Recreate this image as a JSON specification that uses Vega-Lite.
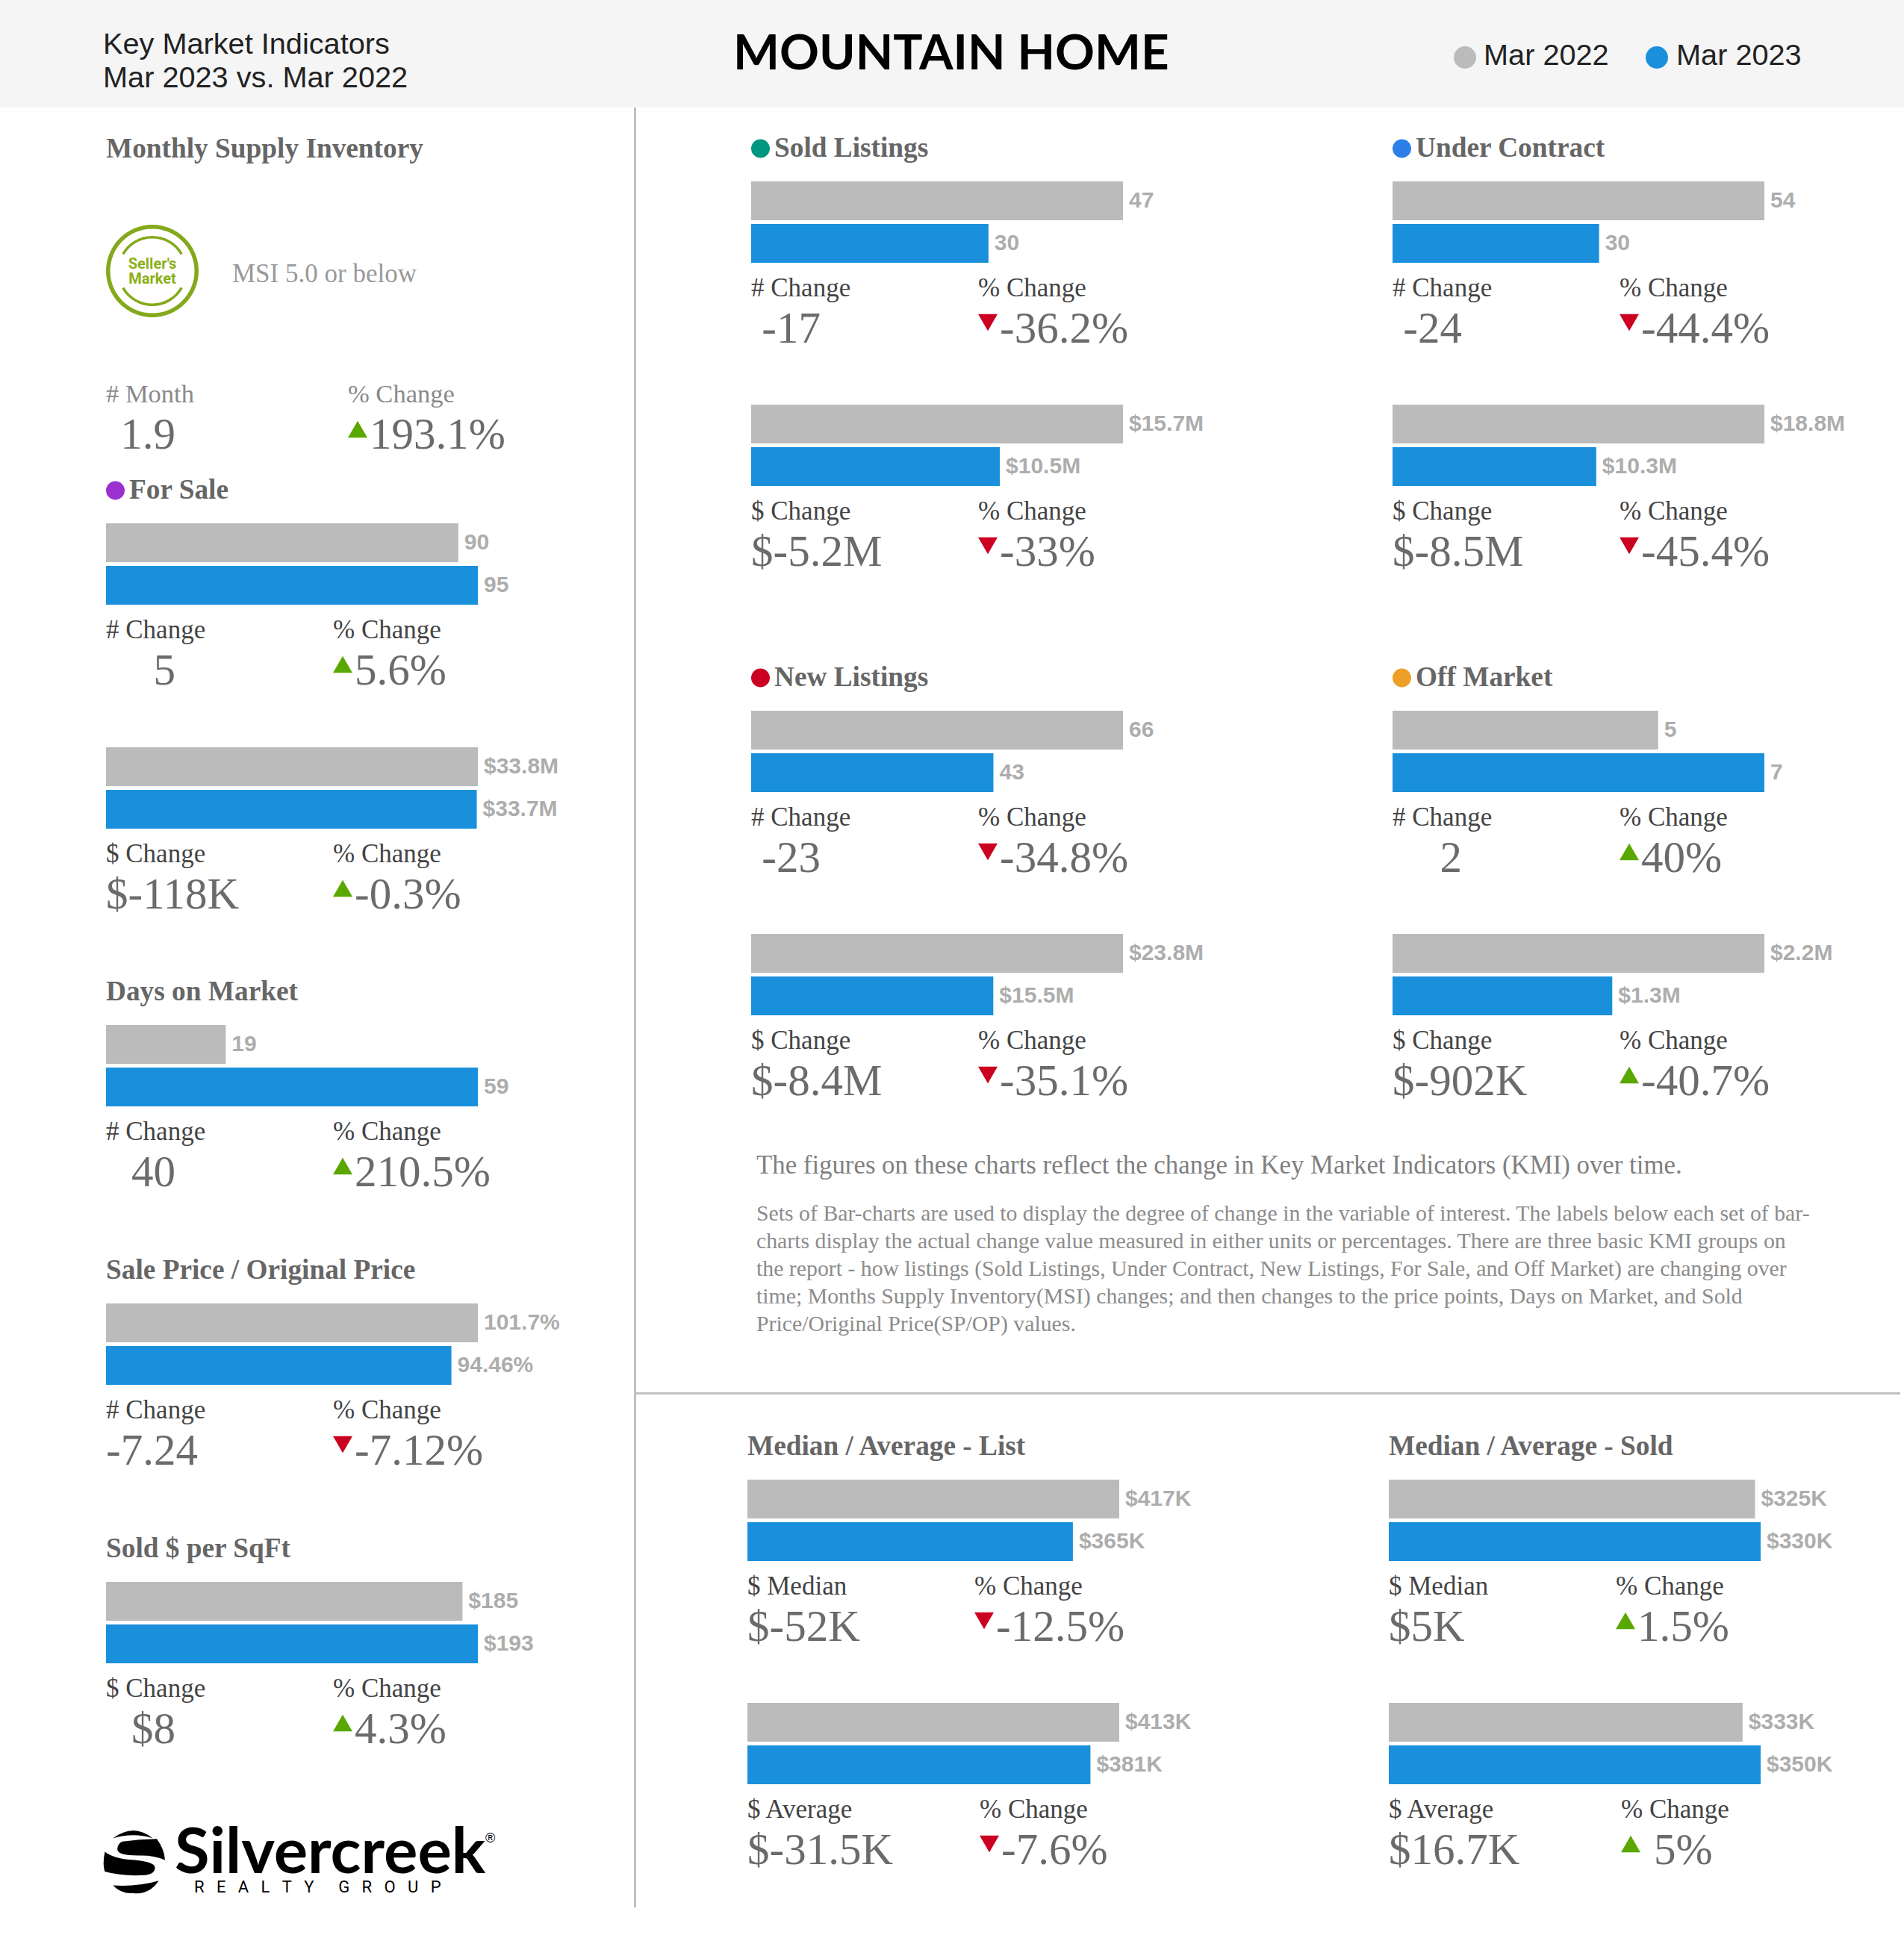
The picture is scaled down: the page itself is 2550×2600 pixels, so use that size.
{"$schema":"https://vega.github.io/schema/vega-lite/v6.json","padding":0,"background":"white","autosize":{"type":"pad"},
"config":{"view":{"stroke":null},"concat":{"spacing":0},"style":{
"lbl":{"font":"Liberation Sans","fontWeight":"bold","fontSize":30,"color":"#adadad","align":"left","baseline":"middle"},
"ttl":{"font":"Liberation Serif","fontWeight":"bold","fontSize":37.3,"color":"#666666","align":"left","baseline":"middle"},
"head":{"font":"Liberation Serif","fontSize":35,"color":"#444444","align":"left","baseline":"middle"},
"msih":{"font":"Liberation Serif","fontSize":34.5,"color":"#8a8a8a","align":"left","baseline":"middle"},
"val":{"font":"Liberation Serif","fontSize":59,"color":"#6b6b6b","align":"left","baseline":"middle"},
"hdr":{"font":"Liberation Sans","fontSize":39.7,"color":"#222222","align":"left","baseline":"alphabetic"}}},
"datasets":{"rows":[
{"g":"fs","block":"fs_n","row":"title","a":"For Sale","dot":true,"key":"For Sale"},
{"g":"fs","block":"fs_n","row":"Mar 2022","key":"Mar 2022","value":90,"label":"90"},
{"g":"fs","block":"fs_n","row":"Mar 2023","key":"Mar 2023","value":95,"label":"95"},
{"g":"fs","block":"fs_n","row":"head","a":"# Change","b":"% Change"},
{"g":"fs","block":"fs_n","row":"value","a":"5","fit":"r","b":"5.6%","key":"up"},
{"g":"fs","block":"fs_v","row":"Mar 2022","key":"Mar 2022","value":33.8,"label":"$33.8M"},
{"g":"fs","block":"fs_v","row":"Mar 2023","key":"Mar 2023","value":33.7,"label":"$33.7M"},
{"g":"fs","block":"fs_v","row":"head","a":"$ Change","b":"% Change"},
{"g":"fs","block":"fs_v","row":"value","a":"$-118K","b":"-0.3%","key":"up"},
{"g":"lr","block":"dom","row":"title","a":"Days on Market"},
{"g":"lr","block":"dom","row":"Mar 2022","key":"Mar 2022","value":19,"label":"19"},
{"g":"lr","block":"dom","row":"Mar 2023","key":"Mar 2023","value":59,"label":"59"},
{"g":"lr","block":"dom","row":"head","a":"# Change","b":"% Change"},
{"g":"lr","block":"dom","row":"value","a":"40","fit":"r","b":"210.5%","key":"up"},
{"g":"lr","block":"spop","row":"title","a":"Sale Price / Original Price"},
{"g":"lr","block":"spop","row":"Mar 2022","key":"Mar 2022","value":101.7,"label":"101.7%"},
{"g":"lr","block":"spop","row":"Mar 2023","key":"Mar 2023","value":94.46,"label":"94.46%"},
{"g":"lr","block":"spop","row":"head","a":"# Change","b":"% Change"},
{"g":"lr","block":"spop","row":"value","a":"-7.24","b":"-7.12%","key":"down"},
{"g":"lr","block":"sqft","row":"title","a":"Sold $ per SqFt"},
{"g":"lr","block":"sqft","row":"Mar 2022","key":"Mar 2022","value":185,"label":"$185"},
{"g":"lr","block":"sqft","row":"Mar 2023","key":"Mar 2023","value":193,"label":"$193"},
{"g":"lr","block":"sqft","row":"head","a":"$ Change","b":"% Change"},
{"g":"lr","block":"sqft","row":"value","a":"$8","fit":"r","b":"4.3%","key":"up"},
{"g":"sc","block":"sold_n","row":"title","a":"Sold Listings","dot":true,"key":"Sold Listings"},
{"g":"sc","block":"sold_n","row":"Mar 2022","key":"Mar 2022","value":47,"label":"47"},
{"g":"sc","block":"sold_n","row":"Mar 2023","key":"Mar 2023","value":30,"label":"30"},
{"g":"sc","block":"sold_n","row":"head","a":"# Change","b":"% Change"},
{"g":"sc","block":"sold_n","row":"value","a":"-17","fit":"r","b":"-36.2%","key":"down"},
{"g":"sc","block":"uc_n","row":"title","a":"Under Contract","dot":true,"key":"Under Contract"},
{"g":"sc","block":"uc_n","row":"Mar 2022","key":"Mar 2022","value":54,"label":"54"},
{"g":"sc","block":"uc_n","row":"Mar 2023","key":"Mar 2023","value":30,"label":"30"},
{"g":"sc","block":"uc_n","row":"head","a":"# Change","b":"% Change"},
{"g":"sc","block":"uc_n","row":"value","a":"-24","fit":"r","b":"-44.4%","key":"down"},
{"g":"sc","block":"sold_v","row":"Mar 2022","key":"Mar 2022","value":15.7,"label":"$15.7M"},
{"g":"sc","block":"sold_v","row":"Mar 2023","key":"Mar 2023","value":10.5,"label":"$10.5M"},
{"g":"sc","block":"sold_v","row":"head","a":"$ Change","b":"% Change"},
{"g":"sc","block":"sold_v","row":"value","a":"$-5.2M","b":"-33%","key":"down"},
{"g":"sc","block":"uc_v","row":"Mar 2022","key":"Mar 2022","value":18.8,"label":"$18.8M"},
{"g":"sc","block":"uc_v","row":"Mar 2023","key":"Mar 2023","value":10.3,"label":"$10.3M"},
{"g":"sc","block":"uc_v","row":"head","a":"$ Change","b":"% Change"},
{"g":"sc","block":"uc_v","row":"value","a":"$-8.5M","b":"-45.4%","key":"down"},
{"g":"no","block":"new_n","row":"title","a":"New Listings","dot":true,"key":"New Listings"},
{"g":"no","block":"new_n","row":"Mar 2022","key":"Mar 2022","value":66,"label":"66"},
{"g":"no","block":"new_n","row":"Mar 2023","key":"Mar 2023","value":43,"label":"43"},
{"g":"no","block":"new_n","row":"head","a":"# Change","b":"% Change"},
{"g":"no","block":"new_n","row":"value","a":"-23","fit":"r","b":"-34.8%","key":"down"},
{"g":"no","block":"off_n","row":"title","a":"Off Market","dot":true,"key":"Off Market"},
{"g":"no","block":"off_n","row":"Mar 2022","key":"Mar 2022","value":5,"label":"5"},
{"g":"no","block":"off_n","row":"Mar 2023","key":"Mar 2023","value":7,"label":"7"},
{"g":"no","block":"off_n","row":"head","a":"# Change","b":"% Change"},
{"g":"no","block":"off_n","row":"value","a":"2","fit":"r","b":"40%","key":"up"},
{"g":"no","block":"new_v","row":"Mar 2022","key":"Mar 2022","value":23.8,"label":"$23.8M"},
{"g":"no","block":"new_v","row":"Mar 2023","key":"Mar 2023","value":15.5,"label":"$15.5M"},
{"g":"no","block":"new_v","row":"head","a":"$ Change","b":"% Change"},
{"g":"no","block":"new_v","row":"value","a":"$-8.4M","b":"-35.1%","key":"down"},
{"g":"no","block":"off_v","row":"Mar 2022","key":"Mar 2022","value":2.2,"label":"$2.2M"},
{"g":"no","block":"off_v","row":"Mar 2023","key":"Mar 2023","value":1.3,"label":"$1.3M"},
{"g":"no","block":"off_v","row":"head","a":"$ Change","b":"% Change"},
{"g":"no","block":"off_v","row":"value","a":"$-902K","b":"-40.7%","key":"up"},
{"g":"ma","block":"list_m","row":"title","a":"Median / Average - List"},
{"g":"ma","block":"list_m","row":"Mar 2022","key":"Mar 2022","value":417,"label":"$417K"},
{"g":"ma","block":"list_m","row":"Mar 2023","key":"Mar 2023","value":365,"label":"$365K"},
{"g":"ma","block":"list_m","row":"head","a":"$ Median","b":"% Change"},
{"g":"ma","block":"list_m","row":"value","a":"$-52K","b":"-12.5%","key":"down"},
{"g":"ma","block":"sold_m","row":"title","a":"Median / Average - Sold"},
{"g":"ma","block":"sold_m","row":"Mar 2022","key":"Mar 2022","value":325,"label":"$325K"},
{"g":"ma","block":"sold_m","row":"Mar 2023","key":"Mar 2023","value":330,"label":"$330K"},
{"g":"ma","block":"sold_m","row":"head","a":"$ Median","b":"% Change"},
{"g":"ma","block":"sold_m","row":"value","a":"$5K","b":"1.5%","key":"up"},
{"g":"ma","block":"list_a","row":"Mar 2022","key":"Mar 2022","value":413,"label":"$413K"},
{"g":"ma","block":"list_a","row":"Mar 2023","key":"Mar 2023","value":381,"label":"$381K"},
{"g":"ma","block":"list_a","row":"head","a":"$ Average","b":"% Change"},
{"g":"ma","block":"list_a","row":"value","a":"$-31.5K","b":"-7.6%","key":"down"},
{"g":"ma","block":"sold_a","row":"Mar 2022","key":"Mar 2022","value":333,"label":"$333K"},
{"g":"ma","block":"sold_a","row":"Mar 2023","key":"Mar 2023","value":350,"label":"$350K"},
{"g":"ma","block":"sold_a","row":"head","a":"$ Average","b":"% Change"},
{"g":"ma","block":"sold_a","row":"value","a":"$16.7K","b":"5%","key":"up"}
]},
"bounds":"full",
"vconcat":[
{"width":2550,"height":144,"view":{"fill":"#f5f5f5","stroke":null},"encoding":{"x":{"datum":0,"type":"quantitative","scale":{"domain":[0,1]},"axis":null}},"layer":[
{"data":{"values":[{"t":"Key Market Indicators"}]},"mark":{"type":"text","style":"hdr","dx":138,"dy":0},"encoding":{"text":{"field":"t"}}},
{"data":{"values":[{"t":"Mar 2023 vs. Mar 2022"}]},"mark":{"type":"text","style":"hdr","dx":138,"dy":45},"encoding":{"text":{"field":"t"}}},
{"data":{"values":[{"t":"MOUNTAIN HOME"}]},"mark":{"type":"text","font":"Lato","fontWeight":"bold","fontSize":65.6,"color":"#000000","align":"left","baseline":"alphabetic","dx":982,"dy":21},"encoding":{"text":{"field":"t"}}},
{"data":{"values":[{"t":"Mar 2022"}]},"mark":{"type":"text","style":"hdr","dx":1987,"dy":15},"encoding":{"text":{"field":"t"}}},
{"data":{"values":[{"t":"Mar 2023"}]},"mark":{"type":"text","style":"hdr","dx":2245,"dy":15},"encoding":{"text":{"field":"t"}}},
{"data":{"values":[{"t":"Mar 2022"}]},"mark":{"type":"point","filled":true,"opacity":1,"size":900,"color":"#bbbbbb","xOffset":1962,"yOffset":5},"encoding":{}},
{"data":{"values":[{"t":"Mar 2023"}]},"mark":{"type":"point","filled":true,"opacity":1,"size":900,"color":"#1a90dc","xOffset":2219,"yOffset":5},"encoding":{}}
]},
{"hconcat":[
{"vconcat":[
{"hconcat":[
{"width":142,"height":20,"data":{"values":[{}]},"mark":{"type":"text","text":""},"encoding":{}},
{"vconcat":[
{"width":700,"height":26,"data":{"values":[{}]},"mark":{"type":"text","text":""},"encoding":{}},
{"width":700,"height":60,"data":{"values":[{"t":"Monthly Supply Inventory"}]},"mark":{"type":"text","style":"ttl"},"encoding":{"x":{"datum":0,"type":"quantitative","scale":{"domain":[0,1]},"axis":null},"text":{"field":"t"}}},
{"width":1,"height":71,"data":{"values":[{}]},"mark":{"type":"text","text":""},"encoding":{}},
{"hconcat":[
{"width":124,"height":124,"data":{"values":[{"a":"Seller's","b":"Market"}]},"layer":[
{"mark":{"type":"arc","radius":62,"radius2":56.5,"theta":0,"theta2":6.2832,"fill":"#84a91c"},"encoding":{}},
{"mark":{"type":"arc","radius":47,"radius2":43.5,"theta":-1.05,"theta2":1.05,"fill":"#84a91c"},"encoding":{}},
{"mark":{"type":"arc","radius":47,"radius2":43.5,"theta":2.09,"theta2":4.19,"fill":"#84a91c"},"encoding":{}},
{"mark":{"type":"text","font":"Roboto","fontWeight":"bold","fontSize":20,"color":"#8bb01c","dy":-9},"encoding":{"text":{"field":"a"}}},
{"mark":{"type":"text","font":"Roboto","fontWeight":"bold","fontSize":20,"color":"#8bb01c","dy":11},"encoding":{"text":{"field":"b"}}}
]},
{"width":45,"height":20,"data":{"values":[{}]},"mark":{"type":"text","text":""},"encoding":{}},
{"width":300,"height":124,"data":{"values":[{"t":"MSI 5.0 or below"}]},"mark":{"type":"text","font":"Liberation Serif","fontSize":35,"color":"#999999","align":"left","baseline":"middle","dy":4},"encoding":{"x":{"datum":0,"type":"quantitative","scale":{"domain":[0,1]},"axis":null},"text":{"field":"t"}}}
]},
{"width":1,"height":77,"data":{"values":[{}]},"mark":{"type":"text","text":""},"encoding":{}},
{"width":700,"height":108,"data":{"values":[{"row":"head","a":"# Month","b":"% Change"},{"row":"value","a":"1.9","b":"193.1%","key":"up"}]},
"encoding":{"x":{"datum":0,"type":"quantitative","scale":{"domain":[0,1]},"axis":null},"y":{"field":"row","type":"nominal","scale":{"type":"band","domain":["head","value"],"padding":0},"axis":null}},
"layer":[
{"transform":[{"filter":"datum.row=='head'"}],"mark":{"type":"text","style":"msih"},"encoding":{"text":{"field":"a"}}},
{"transform":[{"filter":"datum.row=='head'"}],"mark":{"type":"text","style":"msih","dx":324},"encoding":{"text":{"field":"b"}}},
{"transform":[{"filter":"datum.row=='value'"}],"mark":{"type":"text","style":"val","align":"right","dx":93},"encoding":{"text":{"field":"a"}}},
{"transform":[{"filter":"datum.row=='value'"}],"mark":{"type":"text","style":"val","dx":353},"encoding":{"text":{"field":"b"}}},
{"transform":[{"filter":"datum.row=='value'"}],"mark":{"type":"point","filled":true,"opacity":1,"size":676,"xOffset":337,"yOffset":-8,"shape":"triangle-up","color":"#5aa700"},"encoding":{}}
]},
{"width":1,"height":24,"data":{"values":[{}]},"mark":{"type":"text","text":""},"encoding":{}},
{"data":{"name":"rows"},"transform":[{"filter":"datum.g=='fs'"}],"facet":{"field":"block","type":"nominal","header":{"title":null,"labelExpr":"''","labelFontSize":1,"labelPadding":0},"sort":["fs_n","fs_v"]},"columns":1,"spacing":{"row":20,"column":0},"bounds":"flush","resolve":{"scale":{"x":"independent"}},
"spec":{"width":498,"height":280,"encoding":{"y":{"field":"row","type":"nominal","scale":{"type":"band","domain":["title","Mar 2022","Mar 2023","head","value"],"paddingInner":0.0877,"paddingOuter":0},"axis":null}},
"layer":[
{"transform":[{"filter":"isValid(datum.value)"}],"mark":"bar","encoding":{"x":{"field":"value","type":"quantitative","scale":{"nice":false,"zero":true},"axis":null},"color":{"field":"key","type":"nominal","legend":null,"scale":{"domain":["Mar 2022","Mar 2023","For Sale","Sold Listings","Under Contract","New Listings","Off Market","up","down"],"range":["#bbbbbb","#1a90dc","#9b30d0","#00967f","#2d7fe8","#cc0022","#ee9f27","#5aa700","#cc0020"]}}}},
{"transform":[{"filter":"isValid(datum.value)"}],"mark":{"type":"text","style":"lbl","dx":8},"encoding":{"x":{"field":"value","type":"quantitative","scale":{"nice":false,"zero":true},"axis":null},"text":{"field":"label"}}},
{"encoding":{"x":{"value":0}},"layer":[
{"transform":[{"filter":"datum.row=='title' && datum.dot"}],"mark":{"type":"text","style":"ttl","dy":-13,"dx":31},"encoding":{"text":{"field":"a"}}},
{"transform":[{"filter":"datum.row=='title' && datum.dot"}],"mark":{"type":"point","filled":true,"opacity":1,"size":625,"xOffset":12.5,"yOffset":-13},"encoding":{"color":{"field":"key","type":"nominal","legend":null,"scale":{"domain":["Mar 2022","Mar 2023","For Sale","Sold Listings","Under Contract","New Listings","Off Market","up","down"],"range":["#bbbbbb","#1a90dc","#9b30d0","#00967f","#2d7fe8","#cc0022","#ee9f27","#5aa700","#cc0020"]}}}},
{"transform":[{"filter":"datum.row=='head'"}],"mark":{"type":"text","style":"head","dy":3},"encoding":{"text":{"field":"a"}}},
{"transform":[{"filter":"datum.row=='head'"}],"mark":{"type":"text","style":"head","dy":3,"dx":304},"encoding":{"text":{"field":"b"}}},
{"transform":[{"filter":"datum.row=='value' && datum.fit!='r'"}],"mark":{"type":"text","style":"val","dy":1},"encoding":{"text":{"field":"a"}}},
{"transform":[{"filter":"datum.row=='value' && datum.fit=='r'"}],"mark":{"type":"text","style":"val","dy":1,"align":"right","dx":93},"encoding":{"text":{"field":"a"}}},
{"transform":[{"filter":"datum.row=='value'"}],"mark":{"type":"text","style":"val","dy":1,"dx":333},"encoding":{"text":{"field":"b"}}},
{"transform":[{"filter":"datum.row=='value'"}],"mark":{"type":"point","filled":true,"opacity":1,"size":676,"xOffset":317,"yOffset":-8},"encoding":{"shape":{"field":"key","type":"nominal","legend":null,"scale":{"domain":["up","down"],"range":["triangle-up","triangle-down"]}},"color":{"field":"key","type":"nominal","legend":null,"scale":{"domain":["Mar 2022","Mar 2023","For Sale","Sold Listings","Under Contract","New Listings","Off Market","up","down"],"range":["#bbbbbb","#1a90dc","#9b30d0","#00967f","#2d7fe8","#cc0022","#ee9f27","#5aa700","#cc0020"]}}}}
]}
]}},
{"width":1,"height":80,"data":{"values":[{}]},"mark":{"type":"text","text":""},"encoding":{}},
{"data":{"name":"rows"},"transform":[{"filter":"datum.g=='lr'"}],"facet":{"field":"block","type":"nominal","header":{"title":null,"labelExpr":"''","labelFontSize":1,"labelPadding":0},"sort":["dom","spop","sqft"]},"columns":1,"spacing":{"row":93,"column":0},"bounds":"flush","resolve":{"scale":{"x":"independent"}},
"spec":{"width":498,"height":280,"encoding":{"y":{"field":"row","type":"nominal","scale":{"type":"band","domain":["title","Mar 2022","Mar 2023","head","value"],"paddingInner":0.0877,"paddingOuter":0},"axis":null}},
"layer":[
{"transform":[{"filter":"isValid(datum.value)"}],"mark":"bar","encoding":{"x":{"field":"value","type":"quantitative","scale":{"nice":false,"zero":true},"axis":null},"color":{"field":"key","type":"nominal","legend":null,"scale":{"domain":["Mar 2022","Mar 2023","For Sale","Sold Listings","Under Contract","New Listings","Off Market","up","down"],"range":["#bbbbbb","#1a90dc","#9b30d0","#00967f","#2d7fe8","#cc0022","#ee9f27","#5aa700","#cc0020"]}}}},
{"transform":[{"filter":"isValid(datum.value)"}],"mark":{"type":"text","style":"lbl","dx":8},"encoding":{"x":{"field":"value","type":"quantitative","scale":{"nice":false,"zero":true},"axis":null},"text":{"field":"label"}}},
{"encoding":{"x":{"value":0}},"layer":[
{"transform":[{"filter":"datum.row=='title'"}],"mark":{"type":"text","style":"ttl","dy":-13},"encoding":{"text":{"field":"a"}}},
{"transform":[{"filter":"datum.row=='head'"}],"mark":{"type":"text","style":"head","dy":3},"encoding":{"text":{"field":"a"}}},
{"transform":[{"filter":"datum.row=='head'"}],"mark":{"type":"text","style":"head","dy":3,"dx":304},"encoding":{"text":{"field":"b"}}},
{"transform":[{"filter":"datum.row=='value' && datum.fit!='r'"}],"mark":{"type":"text","style":"val","dy":1},"encoding":{"text":{"field":"a"}}},
{"transform":[{"filter":"datum.row=='value' && datum.fit=='r'"}],"mark":{"type":"text","style":"val","dy":1,"align":"right","dx":93},"encoding":{"text":{"field":"a"}}},
{"transform":[{"filter":"datum.row=='value'"}],"mark":{"type":"text","style":"val","dy":1,"dx":333},"encoding":{"text":{"field":"b"}}},
{"transform":[{"filter":"datum.row=='value'"}],"mark":{"type":"point","filled":true,"opacity":1,"size":676,"xOffset":317,"yOffset":-8},"encoding":{"shape":{"field":"key","type":"nominal","legend":null,"scale":{"domain":["up","down"],"range":["triangle-up","triangle-down"]}},"color":{"field":"key","type":"nominal","legend":null,"scale":{"domain":["Mar 2022","Mar 2023","For Sale","Sold Listings","Under Contract","New Listings","Off Market","up","down"],"range":["#bbbbbb","#1a90dc","#9b30d0","#00967f","#2d7fe8","#cc0022","#ee9f27","#5aa700","#cc0020"]}}}}
]}
]}}
]}
]},
{"width":1,"height":94,"data":{"values":[{}]},"mark":{"type":"text","text":""},"encoding":{}},
{"width":849,"height":100,"encoding":{"x":{"datum":0,"type":"quantitative","scale":{"domain":[0,1]},"axis":null}},"layer":[
{"data":{"values":[{"t":"logo"}]},"mark":{"type":"point","filled":true,"opacity":1,"size":7056,"color":"#000000","xOffset":179,"shape":"M-.66-.75Q0-1.25 .61-.75Q0-.95-.66-.75ZM-.36-.65Q.2-.72 .74-.73Q.98-.4 1-.06Q.6-.22 .16-.2Q-.55-.2-.52-.42Q-.5-.6-.36-.65ZM-.92-.32Q-.6-.08 .03-.06Q.7 0 .68 .2Q.66 .43 .2 .43Q-.4 .45-.92 .31Q-1 .1-.92-.32ZM-.66 .75Q.1 .8 .8 .6Q.5 1.05 0 1Q-.4 1.03-.66 .75Z"},"encoding":{}},
{"data":{"values":[{"t":"Silvercreek"}]},"mark":{"type":"text","font":"Lato","fontWeight":"bold","fontSize":85,"color":"#000000","align":"left","baseline":"alphabetic","dx":234,"dy":15},"encoding":{"text":{"field":"t"}}},
{"data":{"values":[{"t":"®"}]},"mark":{"type":"text","font":"Liberation Sans","fontSize":18,"color":"#000000","align":"left","baseline":"alphabetic","dx":650,"dy":-26},"encoding":{"text":{"field":"t"}}},
{"data":{"values":[{"t":"R\u00a0\u00a0\u00a0E\u00a0\u00a0\u00a0A\u00a0\u00a0\u00a0L\u00a0\u00a0\u00a0T\u00a0\u00a0\u00a0Y\u00a0\u00a0\u00a0\u00a0\u00a0\u00a0G\u00a0\u00a0\u00a0R\u00a0\u00a0\u00a0O\u00a0\u00a0\u00a0U\u00a0\u00a0\u00a0P"}]},"mark":{"type":"text","font":"Roboto","fontSize":22,"color":"#000000","align":"left","baseline":"alphabetic","dx":260,"dy":41},"encoding":{"text":{"field":"t"}}}
]}
]},
{"width":3,"height":2411,"view":{"fill":"#c0c0c0","stroke":null},"data":{"values":[{}]},"mark":{"type":"text","text":""},"encoding":{}},
{"vconcat":[
{"width":1,"height":35,"data":{"values":[{}]},"mark":{"type":"text","text":""},"encoding":{}},
{"hconcat":[
{"width":154,"height":20,"data":{"values":[{}]},"mark":{"type":"text","text":""},"encoding":{}},
{"data":{"name":"rows"},"transform":[{"filter":"datum.g=='sc'"}],"facet":{"field":"block","type":"nominal","header":{"title":null,"labelExpr":"''","labelFontSize":1,"labelPadding":0},"sort":["sold_n","uc_n","sold_v","uc_v"]},"columns":2,"spacing":{"row":19,"column":361},"bounds":"flush","resolve":{"scale":{"x":"independent"}},
"spec":{"width":498,"height":280,"encoding":{"y":{"field":"row","type":"nominal","scale":{"type":"band","domain":["title","Mar 2022","Mar 2023","head","value"],"paddingInner":0.0877,"paddingOuter":0},"axis":null}},
"layer":[
{"transform":[{"filter":"isValid(datum.value)"}],"mark":"bar","encoding":{"x":{"field":"value","type":"quantitative","scale":{"nice":false,"zero":true},"axis":null},"color":{"field":"key","type":"nominal","legend":null,"scale":{"domain":["Mar 2022","Mar 2023","For Sale","Sold Listings","Under Contract","New Listings","Off Market","up","down"],"range":["#bbbbbb","#1a90dc","#9b30d0","#00967f","#2d7fe8","#cc0022","#ee9f27","#5aa700","#cc0020"]}}}},
{"transform":[{"filter":"isValid(datum.value)"}],"mark":{"type":"text","style":"lbl","dx":8},"encoding":{"x":{"field":"value","type":"quantitative","scale":{"nice":false,"zero":true},"axis":null},"text":{"field":"label"}}},
{"encoding":{"x":{"value":0}},"layer":[
{"transform":[{"filter":"datum.row=='title' && datum.dot"}],"mark":{"type":"text","style":"ttl","dy":-13,"dx":31},"encoding":{"text":{"field":"a"}}},
{"transform":[{"filter":"datum.row=='title' && datum.dot"}],"mark":{"type":"point","filled":true,"opacity":1,"size":625,"xOffset":12.5,"yOffset":-13},"encoding":{"color":{"field":"key","type":"nominal","legend":null,"scale":{"domain":["Mar 2022","Mar 2023","For Sale","Sold Listings","Under Contract","New Listings","Off Market","up","down"],"range":["#bbbbbb","#1a90dc","#9b30d0","#00967f","#2d7fe8","#cc0022","#ee9f27","#5aa700","#cc0020"]}}}},
{"transform":[{"filter":"datum.row=='head'"}],"mark":{"type":"text","style":"head","dy":3},"encoding":{"text":{"field":"a"}}},
{"transform":[{"filter":"datum.row=='head'"}],"mark":{"type":"text","style":"head","dy":3,"dx":304},"encoding":{"text":{"field":"b"}}},
{"transform":[{"filter":"datum.row=='value' && datum.fit!='r'"}],"mark":{"type":"text","style":"val","dy":1},"encoding":{"text":{"field":"a"}}},
{"transform":[{"filter":"datum.row=='value' && datum.fit=='r'"}],"mark":{"type":"text","style":"val","dy":1,"align":"right","dx":93},"encoding":{"text":{"field":"a"}}},
{"transform":[{"filter":"datum.row=='value'"}],"mark":{"type":"text","style":"val","dy":1,"dx":333},"encoding":{"text":{"field":"b"}}},
{"transform":[{"filter":"datum.row=='value'"}],"mark":{"type":"point","filled":true,"opacity":1,"size":676,"xOffset":317,"yOffset":-8},"encoding":{"shape":{"field":"key","type":"nominal","legend":null,"scale":{"domain":["up","down"],"range":["triangle-up","triangle-down"]}},"color":{"field":"key","type":"nominal","legend":null,"scale":{"domain":["Mar 2022","Mar 2023","For Sale","Sold Listings","Under Contract","New Listings","Off Market","up","down"],"range":["#bbbbbb","#1a90dc","#9b30d0","#00967f","#2d7fe8","#cc0022","#ee9f27","#5aa700","#cc0020"]}}}}
]}
]}}
]},
{"width":1,"height":118,"data":{"values":[{}]},"mark":{"type":"text","text":""},"encoding":{}},
{"hconcat":[
{"width":154,"height":20,"data":{"values":[{}]},"mark":{"type":"text","text":""},"encoding":{}},
{"data":{"name":"rows"},"transform":[{"filter":"datum.g=='no'"}],"facet":{"field":"block","type":"nominal","header":{"title":null,"labelExpr":"''","labelFontSize":1,"labelPadding":0},"sort":["new_n","off_n","new_v","off_v"]},"columns":2,"spacing":{"row":19,"column":361},"bounds":"flush","resolve":{"scale":{"x":"independent"}},
"spec":{"width":498,"height":280,"encoding":{"y":{"field":"row","type":"nominal","scale":{"type":"band","domain":["title","Mar 2022","Mar 2023","head","value"],"paddingInner":0.0877,"paddingOuter":0},"axis":null}},
"layer":[
{"transform":[{"filter":"isValid(datum.value)"}],"mark":"bar","encoding":{"x":{"field":"value","type":"quantitative","scale":{"nice":false,"zero":true},"axis":null},"color":{"field":"key","type":"nominal","legend":null,"scale":{"domain":["Mar 2022","Mar 2023","For Sale","Sold Listings","Under Contract","New Listings","Off Market","up","down"],"range":["#bbbbbb","#1a90dc","#9b30d0","#00967f","#2d7fe8","#cc0022","#ee9f27","#5aa700","#cc0020"]}}}},
{"transform":[{"filter":"isValid(datum.value)"}],"mark":{"type":"text","style":"lbl","dx":8},"encoding":{"x":{"field":"value","type":"quantitative","scale":{"nice":false,"zero":true},"axis":null},"text":{"field":"label"}}},
{"encoding":{"x":{"value":0}},"layer":[
{"transform":[{"filter":"datum.row=='title' && datum.dot"}],"mark":{"type":"text","style":"ttl","dy":-13,"dx":31},"encoding":{"text":{"field":"a"}}},
{"transform":[{"filter":"datum.row=='title' && datum.dot"}],"mark":{"type":"point","filled":true,"opacity":1,"size":625,"xOffset":12.5,"yOffset":-13},"encoding":{"color":{"field":"key","type":"nominal","legend":null,"scale":{"domain":["Mar 2022","Mar 2023","For Sale","Sold Listings","Under Contract","New Listings","Off Market","up","down"],"range":["#bbbbbb","#1a90dc","#9b30d0","#00967f","#2d7fe8","#cc0022","#ee9f27","#5aa700","#cc0020"]}}}},
{"transform":[{"filter":"datum.row=='head'"}],"mark":{"type":"text","style":"head","dy":3},"encoding":{"text":{"field":"a"}}},
{"transform":[{"filter":"datum.row=='head'"}],"mark":{"type":"text","style":"head","dy":3,"dx":304},"encoding":{"text":{"field":"b"}}},
{"transform":[{"filter":"datum.row=='value' && datum.fit!='r'"}],"mark":{"type":"text","style":"val","dy":1},"encoding":{"text":{"field":"a"}}},
{"transform":[{"filter":"datum.row=='value' && datum.fit=='r'"}],"mark":{"type":"text","style":"val","dy":1,"align":"right","dx":93},"encoding":{"text":{"field":"a"}}},
{"transform":[{"filter":"datum.row=='value'"}],"mark":{"type":"text","style":"val","dy":1,"dx":333},"encoding":{"text":{"field":"b"}}},
{"transform":[{"filter":"datum.row=='value'"}],"mark":{"type":"point","filled":true,"opacity":1,"size":676,"xOffset":317,"yOffset":-8},"encoding":{"shape":{"field":"key","type":"nominal","legend":null,"scale":{"domain":["up","down"],"range":["triangle-up","triangle-down"]}},"color":{"field":"key","type":"nominal","legend":null,"scale":{"domain":["Mar 2022","Mar 2023","For Sale","Sold Listings","Under Contract","New Listings","Off Market","up","down"],"range":["#bbbbbb","#1a90dc","#9b30d0","#00967f","#2d7fe8","#cc0022","#ee9f27","#5aa700","#cc0020"]}}}}
]}
]}}
]},
{"width":1,"height":54,"data":{"values":[{}]},"mark":{"type":"text","text":""},"encoding":{}},
{"hconcat":[
{"width":161,"height":20,"data":{"values":[{}]},"mark":{"type":"text","text":""},"encoding":{}},
{"width":1500,"height":259,"data":{"values":[
{"line":"h","t":"The figures on these charts reflect the change in Key Market Indicators (KMI) over time."},
{"line":"1","t":"Sets of Bar-charts are used to display the degree of change in the variable of interest. The labels below each set of bar-"},
{"line":"2","t":"charts display the actual change value measured in either units or percentages. There are three basic KMI groups on"},
{"line":"3","t":"the report - how listings (Sold Listings, Under Contract, New Listings, For Sale, and Off Market) are changing over"},
{"line":"4","t":"time; Months Supply Inventory(MSI) changes; and then changes to the price points, Days on Market, and Sold"},
{"line":"5","t":"Price/Original Price(SP/OP) values."}]},
"encoding":{"x":{"datum":0,"type":"quantitative","scale":{"domain":[0,1]},"axis":null},"y":{"field":"line","type":"nominal","scale":{"type":"band","domain":["h","gap","1","2","3","4","5"],"padding":0},"axis":null},"text":{"field":"t"}},
"layer":[
{"transform":[{"filter":"datum.line=='h'"}],"mark":{"type":"text","font":"Liberation Serif","fontSize":34.8,"color":"#808080","align":"left","baseline":"middle","dy":10}},
{"transform":[{"filter":"datum.line!='h'"}],"mark":{"type":"text","font":"Liberation Serif","fontSize":29.8,"color":"#8c8c8c","align":"left","baseline":"middle"}}
]}
]},
{"width":1,"height":68,"data":{"values":[{}]},"mark":{"type":"text","text":""},"encoding":{}},
{"width":1693,"height":3,"view":{"fill":"#c0c0c0","stroke":null},"data":{"values":[{}]},"mark":{"type":"text","text":""},"encoding":{}},
{"width":1,"height":46,"data":{"values":[{}]},"mark":{"type":"text","text":""},"encoding":{}},
{"hconcat":[
{"width":149,"height":20,"data":{"values":[{}]},"mark":{"type":"text","text":""},"encoding":{}},
{"data":{"name":"rows"},"transform":[{"filter":"datum.g=='ma'"}],"facet":{"field":"block","type":"nominal","header":{"title":null,"labelExpr":"''","labelFontSize":1,"labelPadding":0},"sort":["list_m","sold_m","list_a","sold_a"]},"columns":2,"spacing":{"row":19,"column":361},"bounds":"flush","resolve":{"scale":{"x":"independent"}},
"spec":{"width":498,"height":280,"encoding":{"y":{"field":"row","type":"nominal","scale":{"type":"band","domain":["title","Mar 2022","Mar 2023","head","value"],"paddingInner":0.0877,"paddingOuter":0},"axis":null}},
"layer":[
{"transform":[{"filter":"isValid(datum.value)"}],"mark":"bar","encoding":{"x":{"field":"value","type":"quantitative","scale":{"nice":false,"zero":true},"axis":null},"color":{"field":"key","type":"nominal","legend":null,"scale":{"domain":["Mar 2022","Mar 2023","For Sale","Sold Listings","Under Contract","New Listings","Off Market","up","down"],"range":["#bbbbbb","#1a90dc","#9b30d0","#00967f","#2d7fe8","#cc0022","#ee9f27","#5aa700","#cc0020"]}}}},
{"transform":[{"filter":"isValid(datum.value)"}],"mark":{"type":"text","style":"lbl","dx":8},"encoding":{"x":{"field":"value","type":"quantitative","scale":{"nice":false,"zero":true},"axis":null},"text":{"field":"label"}}},
{"encoding":{"x":{"value":0}},"layer":[
{"transform":[{"filter":"datum.row=='title'"}],"mark":{"type":"text","style":"ttl","dy":-13},"encoding":{"text":{"field":"a"}}},
{"transform":[{"filter":"datum.row=='head'"}],"mark":{"type":"text","style":"head","dy":3},"encoding":{"text":{"field":"a"}}},
{"transform":[{"filter":"datum.row=='head' && !test(/_a$/,datum.block)"}],"mark":{"type":"text","style":"head","dy":3,"dx":304},"encoding":{"text":{"field":"b"}}},
{"transform":[{"filter":"datum.row=='head' && test(/_a$/,datum.block)"}],"mark":{"type":"text","style":"head","dy":3,"dx":311},"encoding":{"text":{"field":"b"}}},
{"transform":[{"filter":"datum.row=='value'"}],"mark":{"type":"text","style":"val","dy":1},"encoding":{"text":{"field":"a"}}},
{"transform":[{"filter":"datum.row=='value' && !test(/_a$/,datum.block)"}],"mark":{"type":"text","style":"val","dy":1,"dx":333},"encoding":{"text":{"field":"b"}}},
{"transform":[{"filter":"datum.row=='value' && datum.block=='list_a'"}],"mark":{"type":"text","style":"val","dy":1,"dx":340},"encoding":{"text":{"field":"b"}}},
{"transform":[{"filter":"datum.row=='value' && datum.block=='sold_a'"}],"mark":{"type":"text","style":"val","dy":1,"dx":355},"encoding":{"text":{"field":"b"}}},
{"transform":[{"filter":"datum.row=='value' && !test(/_a$/,datum.block)"}],"mark":{"type":"point","filled":true,"opacity":1,"size":676,"xOffset":317,"yOffset":-8},"encoding":{"shape":{"field":"key","type":"nominal","legend":null,"scale":{"domain":["up","down"],"range":["triangle-up","triangle-down"]}},"color":{"field":"key","type":"nominal","legend":null,"scale":{"domain":["Mar 2022","Mar 2023","For Sale","Sold Listings","Under Contract","New Listings","Off Market","up","down"],"range":["#bbbbbb","#1a90dc","#9b30d0","#00967f","#2d7fe8","#cc0022","#ee9f27","#5aa700","#cc0020"]}}}},
{"transform":[{"filter":"datum.row=='value' && test(/_a$/,datum.block)"}],"mark":{"type":"point","filled":true,"opacity":1,"size":676,"xOffset":324,"yOffset":-8},"encoding":{"shape":{"field":"key","type":"nominal","legend":null,"scale":{"domain":["up","down"],"range":["triangle-up","triangle-down"]}},"color":{"field":"key","type":"nominal","legend":null,"scale":{"domain":["Mar 2022","Mar 2023","For Sale","Sold Listings","Under Contract","New Listings","Off Market","up","down"],"range":["#bbbbbb","#1a90dc","#9b30d0","#00967f","#2d7fe8","#cc0022","#ee9f27","#5aa700","#cc0020"]}}}}
]}
]}}
]}
]}
]}
]}
